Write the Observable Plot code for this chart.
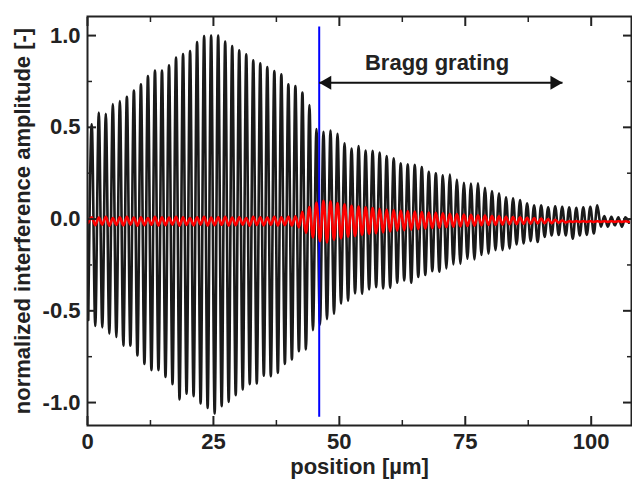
<!DOCTYPE html>
<html><head><meta charset="utf-8">
<script src="https://cdn.jsdelivr.net/npm/d3@7"></script>
<script src="https://cdn.jsdelivr.net/npm/@observablehq/plot@0.6"></script>
<style>body{margin:0;background:#fff}</style>
</head><body><div id="chart"></div>
<script>
const blackStart = -0.55;
const blackPeaks = [0.516,0.58,0.574,0.627,0.643,0.667,0.70,0.734,0.78,0.81,
  0.81,0.838,0.88,0.90,0.916,0.965,0.998,1.0,1.0,0.967,
  0.943,0.92,0.898,0.865,0.849,0.829,0.807,0.789,0.734,0.725,
  0.689,0.622,0.49,0.476,0.483,0.465,0.413,0.385,0.398,0.374,
  0.372,0.362,0.343,0.331,0.304,0.298,0.296,0.284,0.258,0.249,
  0.238,0.242,0.216,0.198,0.193,0.195,0.171,0.153,0.14,0.118,
  0.113,0.104,0.086,0.075,0.075,0.064,0.069,0.067,0.064,0.062,
  0.064,0.067,0.075,0.016,0.012,0.010,0.010];
const blackTroughs = [-0.583,-0.59,-0.625,-0.643,-0.69,-0.69,-0.743,-0.79,-0.823,-0.823,
  -0.86,-0.90,-0.983,-0.952,-0.965,-1.005,-1.03,-1.06,-1.02,-0.996,
  -0.96,-0.929,-0.90,-0.896,-0.853,-0.856,-0.838,-0.789,-0.765,-0.72,
  -0.711,-0.605,-0.575,-0.545,-0.516,-0.46,-0.445,-0.405,-0.407,-0.383,
  -0.371,-0.378,-0.374,-0.347,-0.334,-0.347,-0.316,-0.305,-0.284,-0.287,
  -0.269,-0.247,-0.244,-0.216,-0.22,-0.196,-0.189,-0.169,-0.169,-0.16,
  -0.138,-0.133,-0.12,-0.125,-0.097,-0.089,-0.087,-0.089,-0.107,-0.089,
  -0.086,-0.078,-0.042,-0.042,-0.034,-0.042,-0.02];
// Extrema of the red signal
const redStart = -0.02;
const redPeaks = [0.010,0.008,0.012,0.006,0.010,0.012,0.008,0.010,0.006,0.012,
  0.010,0.008,0.012,0.010,0.006,0.010,0.012,0.008,0.010,0.012,
  0.008,0.010,0.006,0.012,0.010,0.008,0.012,0.010,0.012,0.015,
  0.040,0.065,0.090,0.100,0.097,0.088,0.080,0.072,0.068,0.064,
  0.060,0.056,0.052,0.049,0.046,0.044,0.041,0.038,0.036,0.034,
  0.032,0.029,0.027,0.025,0.023,0.021,0.019,0.017,0.015,0.013,
  0.011,0.009,0.007,0.005,0.003,0.000,-0.004,-0.008,-0.012,-0.012,
  -0.012,-0.012,-0.012,-0.012,-0.012,-0.012,-0.012];
const redTroughs = [-0.033,-0.030,-0.036,-0.032,-0.034,-0.030,-0.036,-0.033,-0.031,-0.035,
  -0.033,-0.030,-0.036,-0.032,-0.034,-0.030,-0.035,-0.033,-0.031,-0.035,
  -0.033,-0.030,-0.036,-0.032,-0.034,-0.031,-0.035,-0.033,-0.035,-0.045,
  -0.075,-0.100,-0.120,-0.127,-0.112,-0.106,-0.096,-0.092,-0.085,-0.080,
  -0.077,-0.073,-0.068,-0.064,-0.060,-0.058,-0.055,-0.052,-0.049,-0.047,
  -0.044,-0.042,-0.040,-0.038,-0.036,-0.034,-0.032,-0.031,-0.030,-0.028,
  -0.027,-0.026,-0.025,-0.024,-0.023,-0.022,-0.020,-0.018,-0.015,-0.015,
  -0.015,-0.015,-0.015,-0.015,-0.015,-0.015,-0.015];
const firstExtremum = 0.15;   // µm
const halfPeriod = 0.697;     // µm between successive extrema
const gratingStart = 46.0, gratingEnd = 94.3;
const gratingLabel = "Bragg grating";
const labelPos = {x: 69.4, y: 0.852};
const arrowY = 0.743;
const blueLine = {y1: 1.047, y2: -1.08};
const xTicks = [0,25,50,75,100], xMinor = [12.5,37.5,62.5,87.5];
const yTicks = [-1,-0.5,0,0.5,1], yMinor = [-0.75,-0.25,0.25,0.75];

function build(start, peaks, troughs) {
  const out = [{x: firstExtremum, y: start}];
  for (let k = 0; k < peaks.length; k++) {
    out.push({x: firstExtremum + (2*k+1)*halfPeriod, y: peaks[k]});
    out.push({x: firstExtremum + (2*k+2)*halfPeriod, y: troughs[k]});
  }
  return out;
}
const black = build(blackStart, blackPeaks, blackTroughs);
const red = build(redStart, redPeaks, redTroughs);

const font = "'Liberation Sans', Arial, Helvetica, sans-serif";
const tickCol = "#222";
const chart = Plot.plot({
  width: 632, height: 493,
  marginLeft: 87, marginRight: 1, marginTop: 16, marginBottom: 68,
  style: {fontFamily: font, fontWeight: "bold", fontSize: "22px", color: "#222", background: "#fff"},
  x: {domain: [0, 108]},
  y: {domain: [-1.125, 1.104]},
  marks: [
    Plot.line(black, {x: "x", y: "y", stroke: "#1a1a1a", strokeWidth: 2.6, curve: "monotone-x"}),
    Plot.ruleX([gratingStart], {y1: blueLine.y1, y2: blueLine.y2, stroke: "#0000ff", strokeWidth: 2}),
    Plot.line(red, {x: "x", y: "y", stroke: "#ff0000", strokeWidth: 2.6, curve: "monotone-x"}),
    Plot.link([{x1: gratingStart, x2: gratingEnd, y: arrowY}], {x1: "x1", x2: "x2", y1: "y", y2: "y", stroke: "#111", strokeWidth: 2}),
    Plot.dot([{x: gratingStart}], {x: "x", y: () => arrowY, symbol: "triangle", r: 5.2, rotate: -90, dx: 8, fill: "#111", stroke: "none"}),
    Plot.dot([{x: gratingEnd}], {x: "x", y: () => arrowY, symbol: "triangle", r: 5.2, rotate: 90, dx: -8, fill: "#111", stroke: "none"}),
    Plot.text([labelPos], {x: "x", y: "y", text: () => gratingLabel, fontSize: 22, fontWeight: "bold", fill: "#222"}),
    Plot.frame({stroke: tickCol, strokeWidth: 2}),
    // inward ticks on all four sides
    Plot.axisY({anchor: "left", ticks: yTicks, tickSize: 9, dx: 9, text: null, label: null, stroke: tickCol, strokeWidth: 2}),
    Plot.axisY({anchor: "left", ticks: yMinor, tickSize: 5, dx: 5, text: null, label: null, stroke: tickCol, strokeWidth: 1.5}),
    Plot.axisY({anchor: "right", ticks: yTicks, tickSize: 9, dx: -9, text: null, label: null, stroke: tickCol, strokeWidth: 2}),
    Plot.axisY({anchor: "right", ticks: yMinor, tickSize: 5, dx: -5, text: null, label: null, stroke: tickCol, strokeWidth: 1.5}),
    Plot.axisX({anchor: "bottom", ticks: xTicks, tickSize: 9, dy: -9, text: null, label: null, stroke: tickCol, strokeWidth: 2}),
    Plot.axisX({anchor: "bottom", ticks: xMinor, tickSize: 5, dy: -5, text: null, label: null, stroke: tickCol, strokeWidth: 1.5}),
    Plot.axisX({anchor: "top", ticks: xTicks, tickSize: 9, dy: 9, text: null, label: null, stroke: tickCol, strokeWidth: 2}),
    Plot.axisX({anchor: "top", ticks: xMinor, tickSize: 5, dy: 5, text: null, label: null, stroke: tickCol, strokeWidth: 1.5}),
    // tick labels
    Plot.axisY({anchor: "left", ticks: yTicks, tickSize: 0, tickPadding: 7, tickFormat: d => d.toFixed(1), label: null, fontSize: 22, fontWeight: "bold", fill: "#222"}),
    Plot.axisX({anchor: "bottom", ticks: xTicks, tickSize: 0, tickPadding: 8, tickFormat: d => String(d), label: null, fontSize: 22, fontWeight: "bold", fill: "#222"}),
    // axis titles
    Plot.text([0], {frameAnchor: "left", textAnchor: "middle", lineAnchor: "middle", text: () => "normalized interference amplitude [-]", rotate: -90, dx: -65, fontSize: 22, fontWeight: "bold", fill: "#222"}),
    Plot.text([0], {frameAnchor: "bottom", textAnchor: "middle", lineAnchor: "middle", text: () => "position [\u00b5m]", dy: 41, fontSize: 22, fontWeight: "bold", fill: "#222"})
  ]
});
document.getElementById("chart").appendChild(chart);
</script>
</body></html>
